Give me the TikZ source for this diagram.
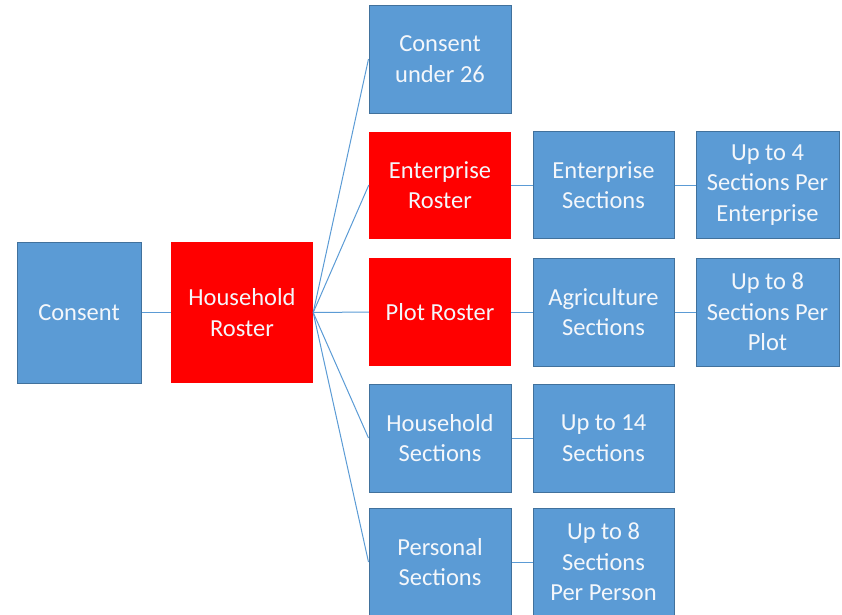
\documentclass[tikz,border=0pt]{standalone}
\usepackage{fontspec}
\setmainfont{Carlito}
\definecolor{boxblue}{HTML}{5B9BD5}
\definecolor{boxedge}{HTML}{41719C}
\definecolor{boxred}{HTML}{FF0000}
\definecolor{linkblue}{HTML}{5B9BD5}
\definecolor{txt}{HTML}{F4F7FB}
\begin{document}
\begin{tikzpicture}[x=1pt,y=-1pt,
  bluebox/.style={draw=boxedge,line width=1pt,fill=boxblue,text=txt,align=center,
    inner sep=0pt,font=\fontsize{24.5}{30.5}\selectfont},
  redbox/.style={draw=none,fill=boxred,text=txt,align=center,
    inner sep=0pt,font=\fontsize{24.5}{30.5}\selectfont},
  link/.style={draw=linkblue,line width=1pt}]
\useasboundingbox (0,0) rectangle (842,614);
\node[bluebox,minimum width=124pt,minimum height=141pt] (consent) at (79,312.5) {Consent};
\node[redbox,minimum width=142pt,minimum height=141pt] (hr) at (242,312.5) {Household\\Roster};
\node[bluebox,minimum width=142pt,minimum height=108pt] (c26) at (440,59) {Consent\\under 26};
\node[redbox,minimum width=142pt,minimum height=107pt] (er) at (440,185) {Enterprise\\Roster};
\node[redbox,minimum width=142pt,minimum height=108pt] (pr) at (440,312) {Plot Roster};
\node[bluebox,minimum width=142pt,minimum height=108pt] (hs) at (440,438) {Household\\Sections};
\node[bluebox,minimum width=142pt,minimum height=107pt] (ps) at (440,562) {Personal\\Sections};
\node[bluebox,minimum width=141pt,minimum height=107pt] (es) at (603.5,185) {Enterprise\\Sections};
\node[bluebox,minimum width=141pt,minimum height=108pt] (as) at (603.5,312) {Agriculture\\Sections};
\node[bluebox,minimum width=141pt,minimum height=108pt] (u14) at (603.5,438) {Up to 14\\Sections};
\node[bluebox,minimum width=141pt,minimum height=107pt] (u8p) at (603.5,562) {Up to 8\\Sections\\Per Person};
\node[bluebox,minimum width=143pt,minimum height=107pt] (u4) at (767.5,185) {Up to 4\\Sections Per\\Enterprise};
\node[bluebox,minimum width=143pt,minimum height=108pt] (u8) at (767.5,312) {Up to 8\\Sections Per\\Plot};
\draw[link] (consent.east) -- (hr.west);
\foreach \t in {c26,er,pr,hs,ps} \draw[link] (hr.east) -- (\t.west);
\draw[link] (er.east) -- (es.west);
\draw[link] (es.east) -- (u4.west);
\draw[link] (pr.east) -- (as.west);
\draw[link] (as.east) -- (u8.west);
\draw[link] (hs.east) -- (u14.west);
\draw[link] (ps.east) -- (u8p.west);
\end{tikzpicture}
\end{document}
